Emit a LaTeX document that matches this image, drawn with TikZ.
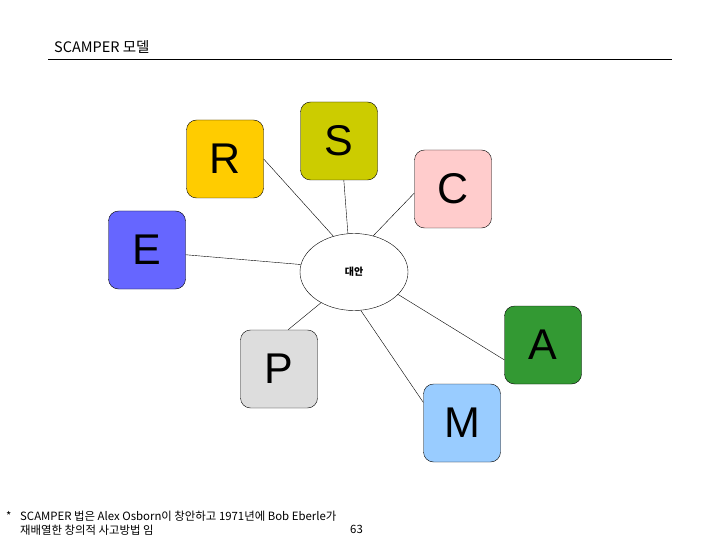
\documentclass[tikz,border=0pt]{standalone}
\usepackage{fontspec}
\setmainfont{Liberation Sans}
\newfontfamily\kor{Noto Sans CJK KR}
\usepackage{xcolor}
\usepackage{tikz}
\usetikzlibrary{shapes,shapes.geometric,positioning}
\definecolor{rgold}{HTML}{FFCC00}
\definecolor{solive}{HTML}{CCCC00}
\definecolor{cpink}{HTML}{FFCCCC}
\definecolor{eblue}{HTML}{6666FF}
\definecolor{pgrey}{HTML}{DDDDDD}
\definecolor{msky}{HTML}{99CCFF}
\definecolor{agreen}{HTML}{339933}
\begin{document}
\begin{tikzpicture}
		[x=1pt,y=-1pt,-,thin,
		letter/.style={shape=rectangle,rounded corners=10pt,draw,thin,
			minimum width=77pt,minimum height=78pt,inner sep=0pt,
			font=\fontsize{43}{43}\selectfont},
		note/.style={anchor=west,inner sep=0pt,font=\kor\fontsize{11.4}{13}\selectfont}]
		\useasboundingbox (0,0) rectangle (720,540);
		% header
		\node[note,font=\kor\fontsize{14.5}{15}\selectfont] (title) at (54,47) {SCAMPER 모델};
		\coordinate (ruleL) at (48,59);
		\coordinate (ruleR) at (672,59);
		\draw[semithick] (ruleL) -- (ruleR);
		% letters
		\node[letter,fill=rgold] (R) at (225,159) {R};
		\node[letter,fill=solive] (S) at (339,141) {S};
		\node[letter,fill=cpink] (C) at (453,189) {C};
		\node[letter,fill=eblue] (E) at (147,250) {E};
		\node[letter,fill=pgrey] (P) at (279,369) {P};
		\node[letter,fill=msky] (M) at (462,423) {M};
		\node[letter,fill=agreen] (A) at (543,345) {A};
		\node[shape=ellipse,draw,thin,fill=white,minimum width=108pt,minimum height=77pt,
			font=\kor\bfseries\fontsize{10}{10}\selectfont] (dae) at (354,272) {대안};
		\path
		\foreach \startNode/\endNode in {R.east/dae.120,S.277/dae.99,C.186/dae.62,
			E.-7/dae.172,P.77/dae.223,M.152/dae.280,A.201/dae.333}
		{
			(\startNode) edge[-,thin] (\endNode)
		};
		% footnote
		\node[note] (star) at (6,516) {*};
		\node[note] (foot1) at (20,516) {SCAMPER 법은 Alex Osborn이 창안하고 1971년에 Bob Eberle가};
		\node[note] (foot2) at (20,530) {재배열한 창의적 사고방법 임};
		\node[note] (page) at (350,529) {63};
		\end{tikzpicture}
\end{document}
